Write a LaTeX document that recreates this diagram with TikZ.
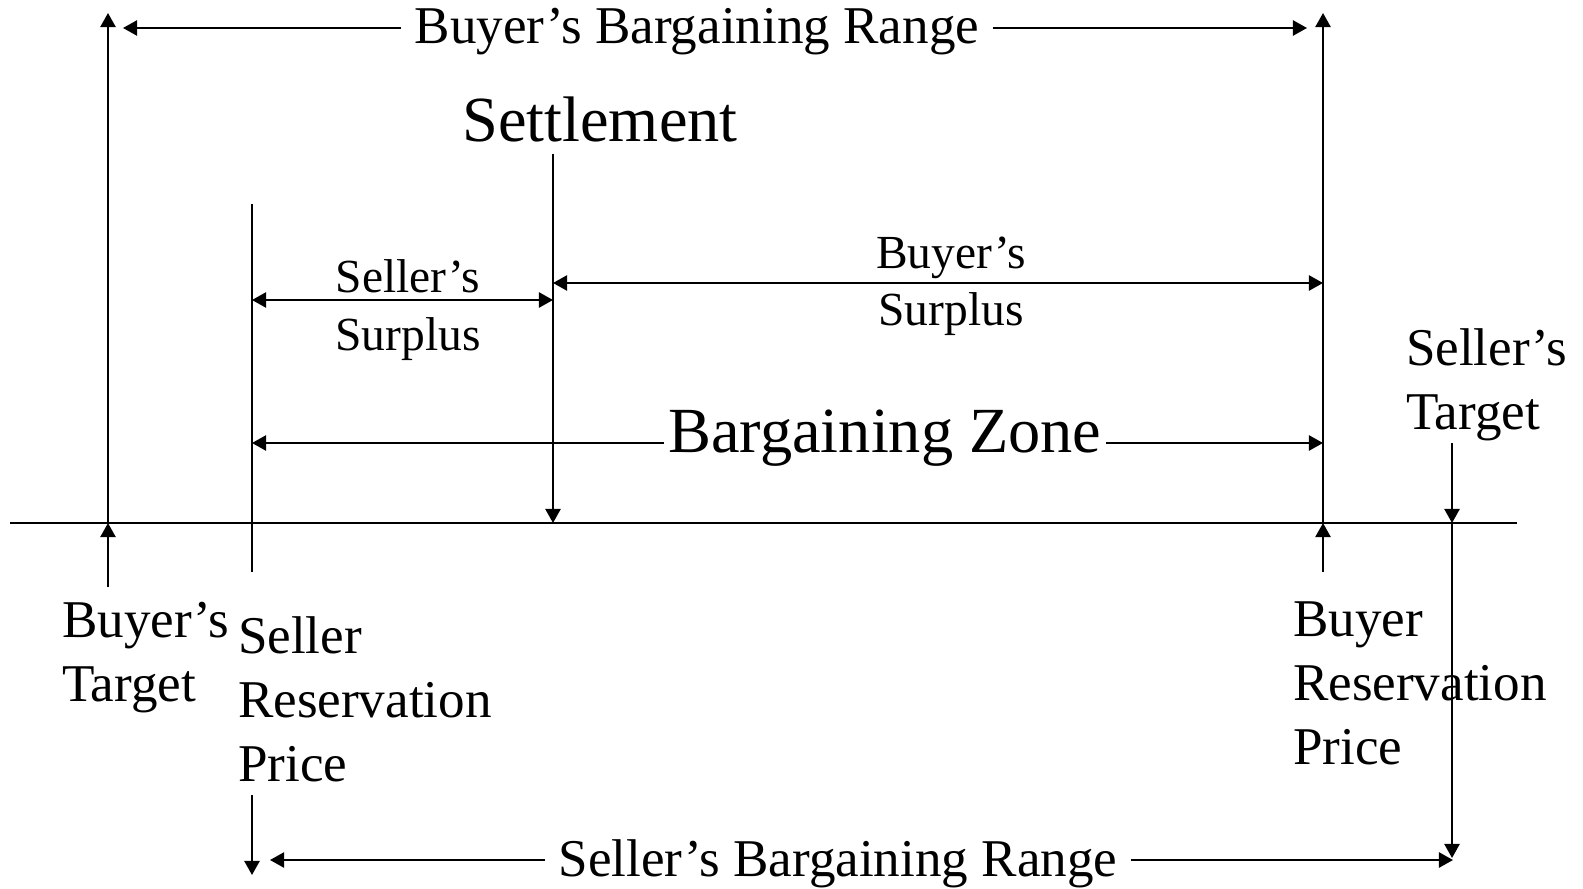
\documentclass[tikz,border=0pt]{standalone}
\usepackage{fontspec}
\setmainfont{Liberation Serif}
\usetikzlibrary{calc,arrows.meta}

\begin{document}
\begin{tikzpicture}[x=0.01cm,y=-0.01cm,line width=0.6pt,
	tip/.style={-{Triangle[length=4pt,width=4.3pt]}},
	tips/.style={{Triangle[length=4pt,width=4.3pt]}-{Triangle[length=4pt,width=4.3pt]}},
	big/.style={font=\fontsize{18.3}{21}\selectfont,inner sep=1pt},
	mid/.style={font=\fontsize{15.1}{18.2}\selectfont,inner sep=3.5pt},
	small/.style={font=\fontsize{13.5}{16.3}\selectfont,align=center,inner sep=0pt,anchor=north},
	lbl/.style={font=\fontsize{15.1}{18.2}\selectfont,align=left,anchor=north west,inner sep=0pt}]
				\useasboundingbox (0,0) rectangle (1583,888);
				
				% price line
				\coordinate (axL) at (10,523);
				\coordinate (axR) at (1517,523);
				\draw (axL) -- (axR);
				
				% the four prices and the settlement on the line
				\coordinate (bt) at (108,523);
				\coordinate (srp) at (252,523);
				\coordinate (set) at (553,523);
				\coordinate (brp) at (1323,523);
				\coordinate (st) at (1452,523);
				
				\draw[tip] (bt) -- ($(bt)+(0,-510)$);
				\draw[tip] ($(bt)+(0,64)$) -- (bt);
				\draw ($(srp)+(0,-319)$) -- ($(srp)+(0,49)$);
				\draw[tip] ($(srp)+(0,272)$) -- ($(srp)+(0,352)$);
				\draw[tip] ($(set)+(0,-369)$) -- (set);
				\draw[tip] (brp) -- ($(brp)+(0,-510)$);
				\draw[tip] ($(brp)+(0,49)$) -- (brp);
				\draw[tip] ($(st)+(0,-80)$) -- (st);
				\draw[tip] (st) -- ($(st)+(0,335)$);
				
				% ranges
				\node[mid,anchor=base] (bbr) at (697,44) {Buyer’s Bargaining Range};
				\coordinate (bbrL) at (123,28);
				\coordinate (bbrR) at (1307,28);
				\draw[tip] (bbr.west |- bbrL) -- (bbrL);
				\draw[tip] (bbr.east |- bbrR) -- (bbrR);
				
				\node[mid,anchor=base] (sbr) at (838,876) {Seller’s Bargaining Range};
				\coordinate (sbrL) at (270,860);
				\coordinate (sbrR) at (1453,860);
				\draw[tip] (sbr.west |- sbrL) -- (sbrL);
				\draw[tip] (sbr.east |- sbrR) -- (sbrR);
				
				\node[big,anchor=base] (bz) at (885,452) {Bargaining Zone};
				\coordinate (bzL) at (252,443);
				\coordinate (bzR) at (1323,443);
				\draw[tip] (bz.west |- bzL) -- (bzL);
				\draw[tip] (bz.east |- bzR) -- (bzR);
				
				\node[big,anchor=base] (settle) at (600,141) {Settlement};
				
				% surpluses
				\draw[tips] (252,300) -- (553,300);
				\draw[tips] (553,283) -- (1323,283);
				\node[small] (ss) at (408,259) {Seller’s\\Surplus};
				\node[small] (bs) at (951,236) {Buyer’s\\Surplus};
				
				% labels of the prices
				\node[lbl] (btL) at (61,601) {Buyer’s\\Target};
				\node[lbl] (srpL) at (237,616) {Seller\\Reservation\\Price};
				\node[lbl] (brpL) at (1292,601) {Buyer\\Reservation\\Price};
				\node[lbl] (stL) at (1405,328) {Seller’s\\Target};
			\end{tikzpicture}
\end{document}
